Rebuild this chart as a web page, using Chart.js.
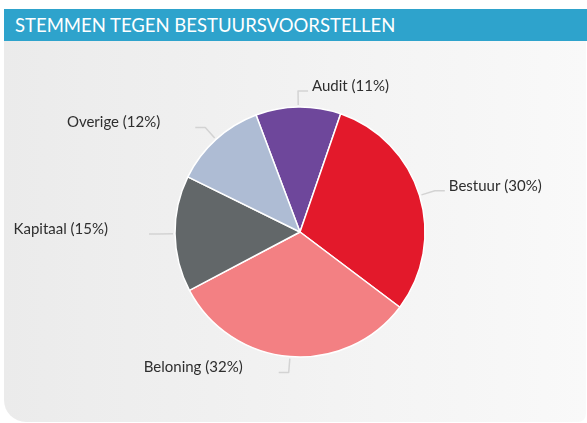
<!DOCTYPE html>
<html>
<head>
<meta charset="utf-8">
<script src="https://cdn.jsdelivr.net/npm/chart.js@4/dist/chart.umd.min.js"></script>
<style>
  html,body{margin:0;padding:0;width:587px;height:423px;overflow:hidden;background:#fff;}
  #header{position:absolute;left:4px;top:9px;width:583px;height:32px;background:#2ea3cc;color:#fff;
    font-family:Lato,"Open Sans",sans-serif;font-size:18.5px;line-height:32px;padding-left:11px;box-sizing:border-box;letter-spacing:0px;}
  #panel{position:absolute;left:4px;top:41px;width:582px;height:381px;
    background:linear-gradient(to right,#ebebeb,#f9f9f9);border-radius:0 0 8px 22px;}
  #wrap{position:absolute;left:0;top:0;width:587px;height:423px;}
</style>
</head>
<body>
<div id="header">STEMMEN TEGEN BESTUURSVOORSTELLEN</div>
<div id="panel"></div>
<div id="wrap"><canvas id="c" width="587" height="423"></canvas></div>
<script>
const categories = ["Audit", "Bestuur", "Beloning", "Kapitaal", "Overige"];
const values = [11, 30, 32, 15, 12];
const colors = ["#6e479b", "#e3192b", "#f38083", "#626769", "#aebcd4"];

// label layout config (not data): side of horizontal run and gap between line end and text
const labelLayout = {
  side: [1, 1, -1, -1, -1],
  gap: [4, 4, 36, 41, 35]
};

const leaderPlugin = {
  id: 'leaders',
  afterDatasetsDraw(chart) {
    const ctx = chart.ctx;
    const meta = chart.getDatasetMeta(0);
    const total = values.reduce((a, b) => a + b, 0);
    ctx.save();
    ctx.font = '15px Lato, "Open Sans", sans-serif';
    meta.data.forEach((arc, i) => {
      const mid = (arc.startAngle + arc.endAngle) / 2;
      const r = arc.outerRadius;
      const cx = arc.x, cy = arc.y;
      const x1 = cx + Math.cos(mid) * (r + 2), y1 = cy + Math.sin(mid) * (r + 2);
      const x2 = cx + Math.cos(mid) * (r + 16), y2 = cy + Math.sin(mid) * (r + 16);
      const side = labelLayout.side[i];
      const x3 = x2 + side * 10;
      ctx.strokeStyle = '#d3d3d3';
      ctx.lineWidth = 1.5;
      ctx.lineJoin = 'round';
      ctx.beginPath();
      ctx.moveTo(x1, y1);
      ctx.lineTo(x2, y2);
      ctx.lineTo(x3, y2);
      ctx.stroke();
      const pct = Math.round(values[i] / total * 100);
      const text = categories[i] + ' (' + pct + '%)';
      ctx.fillStyle = '#2e2e2e';
      ctx.textBaseline = 'middle';
      ctx.textAlign = side > 0 ? 'left' : 'right';
      ctx.fillText(text, x3 + side * labelLayout.gap[i], y2 - 5);
    });
    ctx.restore();
  }
};

new Chart(document.getElementById('c'), {
  type: 'pie',
  data: {
    labels: categories,
    datasets: [{
      data: values,
      backgroundColor: colors,
      borderColor: '#ffffff',
      borderWidth: 1.5,
      radius: 125
    }]
  },
  options: {
    responsive: false,
    animation: false,
    rotation: -20.6,
    layout: { padding: { left: 170, right: 157, top: 102, bottom: 61 } },
    plugins: { legend: { display: false }, tooltip: { enabled: false } }
  },
  plugins: [leaderPlugin]
});
</script>
</body>
</html>
